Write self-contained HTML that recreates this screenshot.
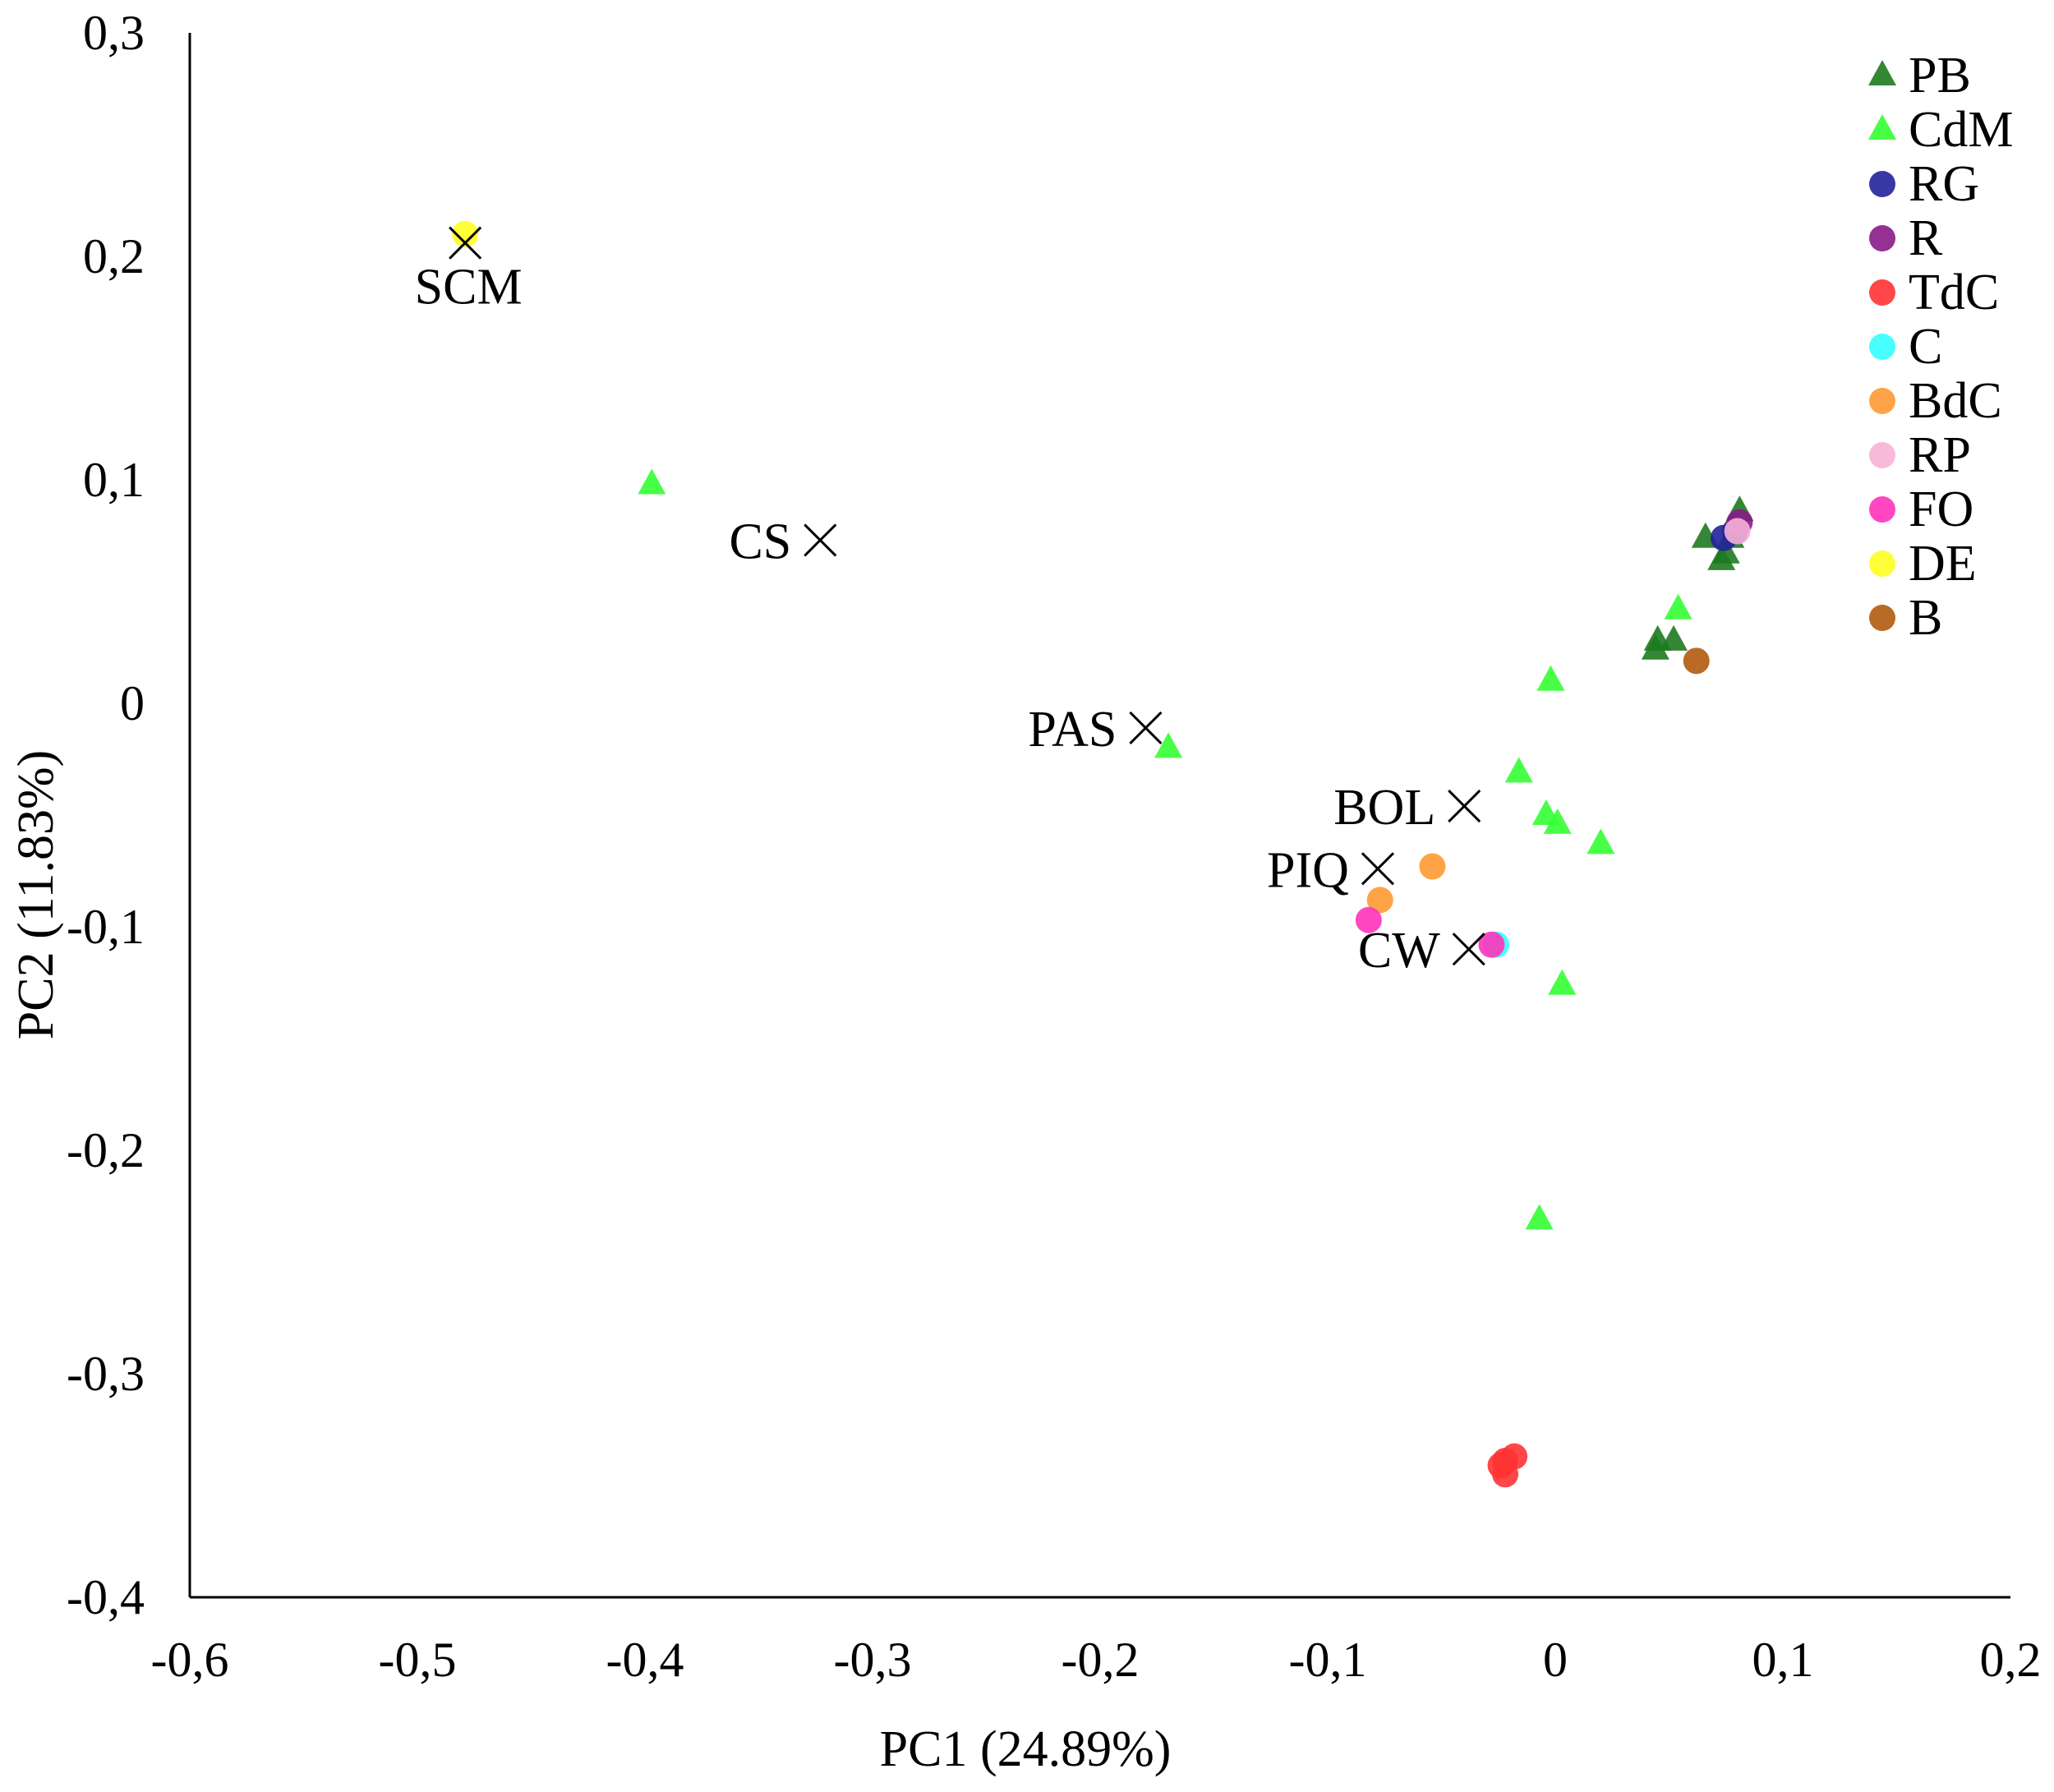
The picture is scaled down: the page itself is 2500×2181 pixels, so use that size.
<!DOCTYPE html>
<html><head><meta charset="utf-8"><style>
html,body{margin:0;padding:0;background:#fff;}
svg{display:block;font-family:"Liberation Serif",serif;}
</style></head><body>
<svg id="chart" width="2500" height="2181" viewBox="0 0 2500 2181" xmlns="http://www.w3.org/2000/svg">
<g id="axes"></g>
<g id="marks"></g>
<g id="legend"></g>
<text x="1248" y="2149" font-size="62" text-anchor="middle">PC1 (24.89%)</text>
<text x="64" y="1089" font-size="62" text-anchor="middle" transform="rotate(-90 64 1089)">PC2 (11.83%)</text>
</svg>
<script>
const xTicks = [-0.6,-0.5,-0.4,-0.3,-0.2,-0.1,0,0.1,0.2];
const yTicks = [0.3,0.2,0.1,0,-0.1,-0.2,-0.3,-0.4];
const seriesNames = ["PB","CdM","RG","R","TdC","C","BdC","RP","FO","DE","B"];
const seriesColors = ["#1e7a1e","#33ff33","#22229a","#8a1a8a","#ff3333","#33ffff","#ff9933","#f7b3d6","#ff33bb","#ffff22","#b35a10"];
const seriesShapes = ["tri","tri","circ","circ","circ","circ","circ","circ","circ","circ","circ"];
const ptsPB_x = [0.045,0.044,0.052,0.066,0.073,0.075,0.081,0.077];
const ptsPB_y = [0.028,0.024,0.028,0.074,0.064,0.067,0.086,0.074];
const ptsCdM_x = [-0.397,-0.170,-0.002,0.054,-0.016,-0.004,0.001,0.020,0.003,-0.007];
const ptsCdM_y = [0.098,-0.020,0.010,0.042,-0.031,-0.050,-0.054,-0.063,-0.126,-0.231];
const ptsRG_x = [0.074,0.079]; const ptsRG_y = [0.074,0.077];
const ptsR_x = [0.081]; const ptsR_y = [0.081];
const ptsTdC_x = [-0.024,-0.022,-0.018,-0.022]; const ptsTdC_y = [-0.341,-0.339,-0.337,-0.345];
const ptsC_x = [-0.026]; const ptsC_y = [-0.108];
const ptsBdC_x = [-0.054,-0.077]; const ptsBdC_y = [-0.073,-0.088];
const ptsRP_x = [0.080]; const ptsRP_y = [0.077];
const ptsFO_x = [-0.082,-0.028]; const ptsFO_y = [-0.097,-0.108];
const ptsDE_x = [-0.479]; const ptsDE_y = [0.210];
const ptsB_x = [0.062]; const ptsB_y = [0.019];
const loadNames = ["SCM","CS","PAS","BOL","PIQ","CW"];
const loadX = [-0.479,-0.323,-0.180,-0.040,-0.078,-0.038];
const loadY = [0.206,0.073,-0.011,-0.046,-0.074,-0.110];

const NS="http://www.w3.org/2000/svg";
const X0=231,X1=2447,Y0=40,Y1=1944;
function sx(v){return X0+(v+0.6)/0.8*(X1-X0);}
function sy(v){return Y0+(0.3-v)/0.7*(Y1-Y0);}
function mk(tag,attrs,parent){const e=document.createElementNS(NS,tag);for(const k in attrs)e.setAttribute(k,attrs[k]);parent.appendChild(e);return e;}
const axes=document.getElementById('axes'),marks=document.getElementById('marks'),legend=document.getElementById('legend');
let l=mk('line',{x1:X0,y1:Y0,x2:X0,y2:Y1,stroke:'#000','stroke-width':3},axes);


l=mk('line',{x1:X0,y1:Y1,x2:X1,y2:Y1,stroke:'#000','stroke-width':3},axes);


xTicks.forEach(v=>{const t=mk('text',{x:sx(v),y:2040,'font-size':60,'text-anchor':'middle'},axes);t.textContent=String(v).replace('.',',');

});
yTicks.forEach(v=>{const t=mk('text',{x:176,y:sy(v)+20,'font-size':60,'text-anchor':'end'},axes);t.textContent=String(v).replace('.',',');

});
function shape(kind,cx,cy,color,parent){
  let e;
  if(kind==='tri'){e=mk('polygon',{points:`${cx},${cy-19} ${cx-17},${cy+12} ${cx+17},${cy+12}`,fill:color,'fill-opacity':0.9},parent);}
  else {e=mk('circle',{cx:cx,cy:cy,r:16,fill:color,'fill-opacity':0.9},parent);}
  return e;
}
const allX=[ptsPB_x,ptsCdM_x,ptsRG_x,ptsR_x,ptsTdC_x,ptsC_x,ptsBdC_x,ptsRP_x,ptsFO_x,ptsDE_x,ptsB_x];
const allY=[ptsPB_y,ptsCdM_y,ptsRG_y,ptsR_y,ptsTdC_y,ptsC_y,ptsBdC_y,ptsRP_y,ptsFO_y,ptsDE_y,ptsB_y];
seriesNames.forEach((n,i)=>{
  allX[i].forEach((xv,j)=>{const e=shape(seriesShapes[i],sx(xv),sy(allY[i][j]),seriesColors[i],marks);
  
  });
  const ly=92+i*66;
  const m=shape(seriesShapes[i],2291,ly,seriesColors[i],legend);
  
  
  const t=mk('text',{x:2323,y:ly+20,'font-size':62},legend);t.textContent=n;
  
  
});
loadNames.forEach((n,i)=>{
  const cx=sx(loadX[i]),cy=sy(loadY[i]),s=19;
  const g=mk('g',{},marks);
  
  
  mk('path',{d:`M${cx-s},${cy-s}L${cx+s},${cy+s}M${cx-s},${cy+s}L${cx+s},${cy-s}`,stroke:'#000','stroke-width':3,fill:'none'},g);
  let t;
  if(n==='SCM'){t=mk('text',{x:cx+4,y:cy+74,'font-size':62,'text-anchor':'middle'},g);}
  else {t=mk('text',{x:cx-35,y:cy+22,'font-size':62,'text-anchor':'end'},g);}
  t.textContent=n;
});
</script>
</body></html>
